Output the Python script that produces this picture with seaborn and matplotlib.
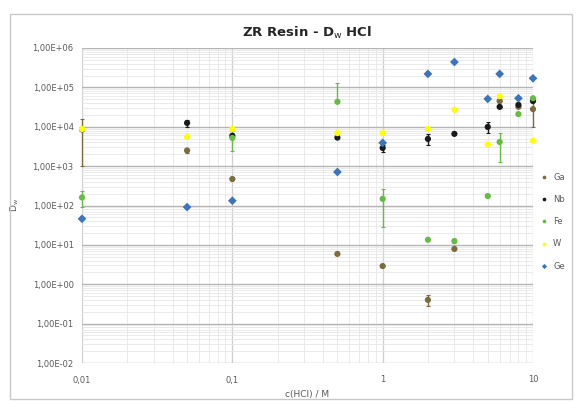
import numpy as np
import pandas as pd
import matplotlib
matplotlib.use("Agg")
import matplotlib.pyplot as plt
import matplotlib.ticker as mticker
from matplotlib.patches import Rectangle
import seaborn as sns

# --- data (nan = no point) ---
hcl = [0.01, 0.05, 0.1, 0.5, 1, 2, 3, 5, 6, 8, 10]
nan = np.nan

ga = [8.5e3, 2.5e3, 470, 5.9, 2.9, 0.40, 7.9, nan, 4.5e4, 3.2e4, 2.8e4]
ga_err = [7.5e3, 300, 0, 0, 0, 0.12, 0, nan, 0, 0, 1.8e4]

nb = [nan, 1.25e4, 5.9e3, 5.3e3, 2.9e3, 4.9e3, 6.6e3, 9.9e3, 3.2e4, 3.6e4, 4.5e4]
nb_err = [nan, 2500, 0, 0, 600, 1500, 0, 3000, 0, 0, 0]

fe = [160, nan, 5.2e3, 4.3e4, 148, 13.5, 12.5, 174, 4.1e3, 2.1e4, 5.3e4]
fe_err = [70, nan, 2800, 8.5e4, 120, 0, 1.5, 0, 2.8e3, 0, 0]

w = [8.8e3, 5.5e3, 8.8e3, 6.9e3, 6.9e3, 8.8e3, 2.7e4, 3.6e3, 6.0e4, nan, 4.4e3]
w_err = [0, 0, 0, 0, 0, 0, 0, 0, 0, nan, 0]

ge = [46, 91, 132, 710, 3.9e3, 2.2e5, 4.4e5, 5.1e4, 2.2e5, 5.3e4, 1.7e5]
ge_err = [0] * len(hcl)

y_ticks = [1e-2, 1e-1, 1e0, 1e1, 1e2, 1e3, 1e4, 1e5, 1e6]
x_ticks = [0.01, 0.1, 1, 10]

elements = ["Ga", "Nb", "Fe", "W", "Ge"]
values = [ga, nb, fe, w, ge]
errors = [ga_err, nb_err, fe_err, w_err, ge_err]
colors = {"Ga": "#7b6b3f", "Nb": "#1a1a1a", "Fe": "#66bb44", "W": "#ffff00", "Ge": "#3d74bd"}
markers = {"Ga": "o", "Nb": "o", "Fe": "o", "W": "o", "Ge": "D"}

rows = []
for el, vals, errs in zip(elements, values, errors):
    for x, v, e in zip(hcl, vals, errs):
        if not np.isnan(v):
            rows.append({"c": x, "D": v, "err": e, "element": el})
df = pd.DataFrame(rows)

sns.set_style("white")
plt.rcParams["font.family"] = ["DejaVu Sans"]

fig = plt.figure(figsize=(5.76, 4.03), dpi=100)
fig.patches.append(Rectangle((10 / 576, 4 / 403), 562 / 576, 1 - 18 / 403,
                             transform=fig.transFigure, fill=False,
                             edgecolor="#c8c8c8", linewidth=1.0))
ax = fig.add_axes([82 / 576, 1 - 363 / 403, (533 - 82) / 576, (363 - 48) / 403])

# error bars (lower part dropped where it would go below zero, like Excel)
for el in elements:
    sub = df[df["element"] == el]
    err = sub["err"].values
    lower = np.where(err < sub["D"].values, err, 0)
    ax.errorbar(sub["c"], sub["D"], yerr=[lower, err], fmt="none",
                ecolor=colors[el], elinewidth=1.0, capsize=1.5, capthick=0.8,
                zorder=2, clip_on=False)

sns.scatterplot(data=df, x="c", y="D", hue="element", style="element",
                hue_order=elements, style_order=elements,
                palette=colors, markers=markers, s=20, linewidth=0, ax=ax,
                zorder=3, clip_on=False)

ax.set_xscale("log")
ax.set_yscale("log")
ax.set_xlim(0.01, 10)
ax.set_ylim(1e-2, 1e6)

ax.yaxis.set_major_locator(mticker.FixedLocator(y_ticks))
ax.xaxis.set_major_locator(mticker.FixedLocator(x_ticks))
ax.yaxis.set_minor_locator(mticker.LogLocator(base=10, subs=np.arange(2, 10), numticks=50))
ax.xaxis.set_minor_locator(mticker.LogLocator(base=10, subs=np.arange(2, 10), numticks=50))
ax.yaxis.set_major_formatter(mticker.FuncFormatter(lambda v, p: f"{v:.2E}".replace(".", ",")))
ax.xaxis.set_major_formatter(mticker.FuncFormatter(lambda v, p: f"{v:g}".replace(".", ",")))
ax.yaxis.set_minor_formatter(mticker.NullFormatter())
ax.xaxis.set_minor_formatter(mticker.NullFormatter())

ax.grid(axis="y", which="major", color="#b5b5b5", linewidth=1.0)
ax.grid(axis="x", which="major", color="#cfcfcf", linewidth=0.9)
ax.grid(which="minor", color="#e6e6e6", linewidth=0.6)
ax.set_axisbelow(True)
for s in ax.spines.values():
    s.set_visible(False)
ax.tick_params(which="both", length=0, labelsize=6, colors="#595959")
ax.tick_params(axis="y", pad=6)
ax.tick_params(axis="x", pad=9)

ax.set_title("ZR Resin - D$_\\mathrm{w}$ HCl", fontsize=9.5, fontweight="bold",
             color="#262626", pad=8)
ax.set_xlabel("c(HCl) / M", fontsize=6.5, color="#595959", labelpad=4)
ax.set_ylabel("D$_\\mathrm{w}$", fontsize=6.5, color="#595959", labelpad=8)

handles, labels = ax.get_legend_handles_labels()
ax.legend_.remove()
fig.legend(handles, labels, loc="upper left", bbox_to_anchor=(528 / 576, 1 - 165 / 403),
           frameon=False, fontsize=6, labelspacing=1.6, handletextpad=0.1,
           markerscale=0.6, labelcolor="#595959")

fig.savefig("out.png", dpi=100)
